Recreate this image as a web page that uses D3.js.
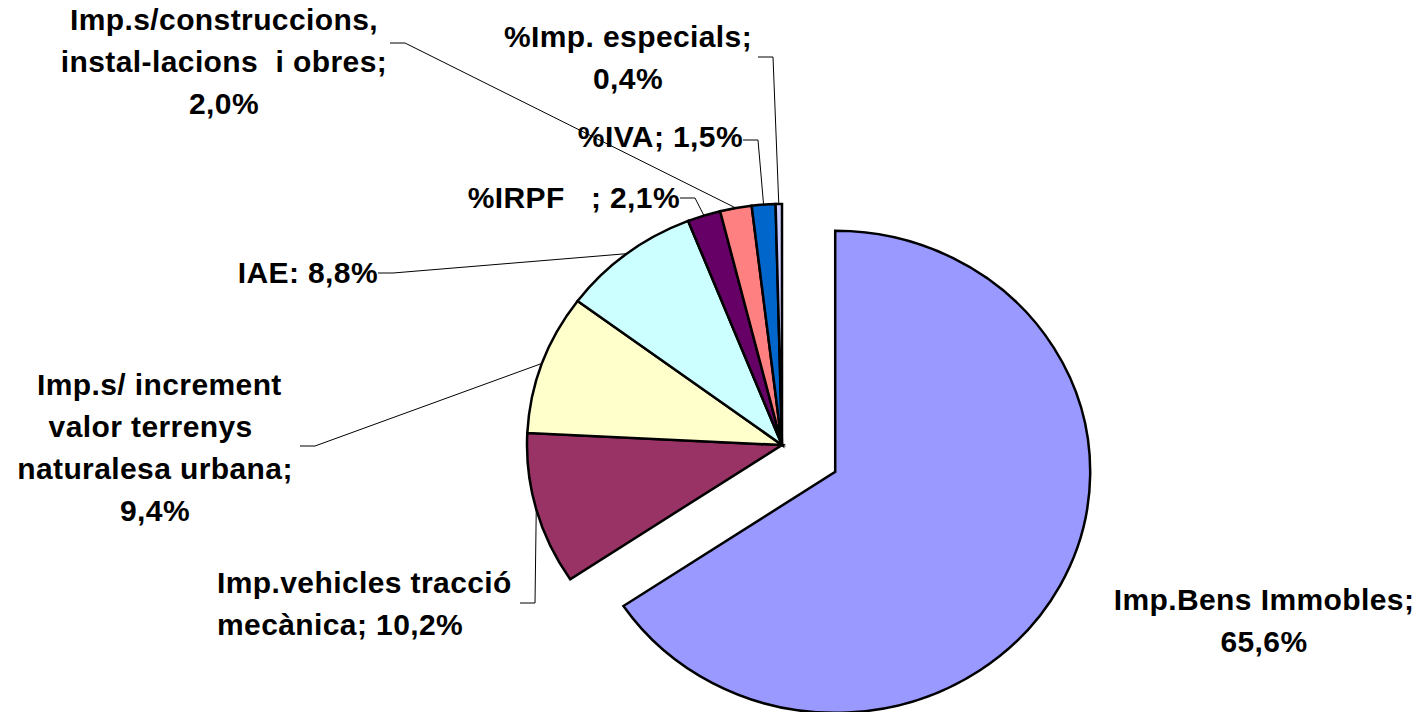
<!DOCTYPE html>
<html>
<head>
<meta charset="utf-8">
<script src="https://cdn.jsdelivr.net/npm/d3@7"></script>
<style>
  body { margin: 0; background: #fff; }
  svg text { font-family: Arial, "Liberation Sans", sans-serif; font-weight: bold; white-space: pre; }
</style>
</head>
<body>
<svg id="chart"></svg>
<script>
'use strict';

// data
var categories = ['Imp.Bens Immobles', 'Imp.vehicles tracció mecànica',
  'Imp.s/ increment valor terrenys naturalesa urbana', 'IAE', '%IRPF',
  'Imp.s/construccions, instal-lacions i obres', '%IVA', '%Imp. especials'];
var values = [65.6, 10.2, 9.4, 8.8, 2.1, 2.0, 1.5, 0.4];
var colors = ['#9999FF', '#993366', '#FFFFCC', '#CCFFFF', '#660066', '#FF8080', '#0066CC', '#CCCCFF'];

function fmt(v) { return v.toFixed(1).replace('.', ',') + '%'; }

// label text, one entry per line
var labelLines = [
  function(v) { return ['Imp.Bens Immobles;', fmt(v)]; },
  function(v) { return ['Imp.vehicles tracció', 'mecànica; ' + fmt(v)]; },
  function(v) { return [' Imp.s/ increment', 'valor terrenys ', 'naturalesa urbana;', fmt(v)]; },
  function(v) { return ['IAE: ' + fmt(v)]; },
  function(v) { return ['%IRPF   ; ' + fmt(v)]; },
  function(v) { return ['Imp.s/construccions,', 'instal-lacions  i obres;', fmt(v)]; },
  function(v) { return ['%IVA; ' + fmt(v)]; },
  function(v) { return ['%Imp. especials;', fmt(v)]; }
];

// layout of labels: anchor x, first baseline, anchor, leader start
var labelLayout = [
  {x: 1264, y: 610, anchor: 'middle', lead: null},
  {x: 217, y: 593, anchor: 'start', lead: [520, 603]},
  {x: 155, y: 395, anchor: 'middle', lead: [300, 446]},
  {x: 378, y: 283, anchor: 'end', lead: [378, 273]},
  {x: 680, y: 208, anchor: 'end', lead: [680, 198]},
  {x: 224, y: 30, anchor: 'middle', lead: [390, 43]},
  {x: 743, y: 147, anchor: 'end', lead: [743, 140]},
  {x: 628, y: 47, anchor: 'middle', lead: [758, 57]}
];

var canvasWidth = 1426;
var canvasHeight = 712;
var cx = 782, cy = 445;
var ry = 241, rx = 255;
var sx = rx / ry;
var explode = 57;
var lineHeight = 42;

var svg = d3.select('#chart')
  .attr('width', canvasWidth)
  .attr('height', canvasHeight);

var pie = d3.pie().sort(null).value(function(d) { return d; });
var arcs = pie(values);

var arc = d3.arc().innerRadius(0).outerRadius(ry);

// point on the ellipse edge at a given angle
function edge(a) {
  return [cx + rx * Math.sin(a), cy - ry * Math.cos(a)];
}

// leader lines (drawn under the pie)
var leaders = svg.append('g');
arcs.forEach(function(d, i) {
  var lay = labelLayout[i];
  if (!lay.lead) return;
  var mid = (d.startAngle + d.endAngle) / 2;
  var e = edge(mid);
  var pts = [lay.lead, [lay.lead[0] + 15, lay.lead[1]], e];
  leaders.append('path')
    .attr('d', d3.line()(pts))
    .attr('fill', 'none')
    .attr('stroke', '#000')
    .attr('stroke-width', 1);
});

// slices
var pieArea = svg.append('g');
arcs.forEach(function(d, i) {
  var dx = 0, dy = 0;
  if (i === 0) {
    var mid = (d.startAngle + d.endAngle) / 2;
    dx = explode * Math.sin(mid) * sx;
    dy = -explode * Math.cos(mid);
  }
  pieArea.append('path')
    .attr('transform', 'translate(' + (cx + dx) + ',' + (cy + dy) + ') scale(' + sx + ',1)')
    .attr('d', arc(d))
    .attr('fill', colors[i])
    .attr('stroke', '#000')
    .attr('stroke-width', 2.5)
    .attr('stroke-linejoin', 'miter')
    .attr('vector-effect', 'non-scaling-stroke');
});

// labels
var labels = svg.append('g');
values.forEach(function(v, i) {
  var lay = labelLayout[i];
  var t = labels.append('text')
    .attr('text-anchor', lay.anchor)
    .style('font-size', '30px')
    .style('letter-spacing', '0.4px')
    .attr('fill', '#000');
  labelLines[i](v).forEach(function(line, k) {
    t.append('tspan')
      .attr('x', lay.x)
      .attr('y', lay.y + k * lineHeight)
      .text(line);
  });
});
</script>
</body>
</html>
